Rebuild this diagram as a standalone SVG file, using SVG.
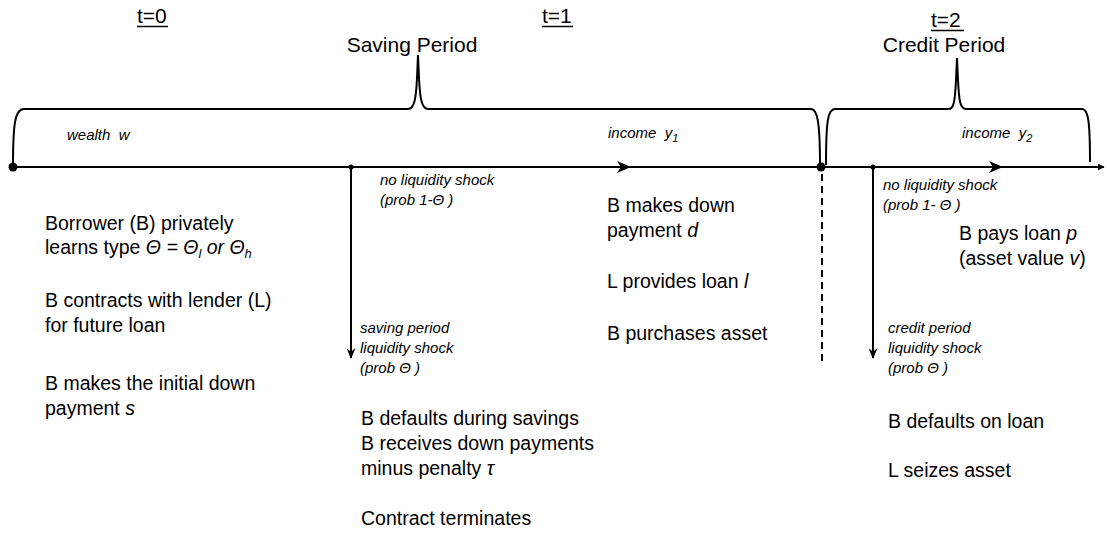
<svg xmlns="http://www.w3.org/2000/svg" width="1107" height="537" viewBox="0 0 1107 537">
<defs>
<style>
text{font-family:"Liberation Sans",Arial,sans-serif;fill:#000}
.h{font-size:21px}
.b{font-size:19.5px}
.s{font-size:15px;font-style:italic}
.i{font-style:italic}
.ln{fill:none;stroke:#000;stroke-width:2}
.br{fill:none;stroke:#000;stroke-width:2}
.ul{stroke:#000;stroke-width:1.5}
</style>
<marker id="ah" viewBox="0 0 10 10" refX="9" refY="5" markerWidth="7" markerHeight="7" markerUnits="userSpaceOnUse" orient="auto">
<path d="M0,0 L10,5 L0,10 Z" fill="#000"/>
</marker>
<marker id="dn" viewBox="0 0 10 12" refX="5" refY="11" markerWidth="9" markerHeight="11" markerUnits="userSpaceOnUse" orient="0">
<path d="M0,0 L5,12 L10,0 L5,4 Z" fill="#000"/>
</marker>
</defs>
<rect width="1107" height="537" fill="#fff"/>

<g id="headings">
<text class="h" x="137" y="23">t=0</text>
<line class="ul" x1="137" y1="26.5" x2="168" y2="26.5"/>
<text class="h" x="542" y="23">t=1</text>
<line class="ul" x1="542" y1="26.5" x2="573" y2="26.5"/>
<text class="h" x="931" y="27">t=2</text>
<line class="ul" x1="931" y1="30.5" x2="964" y2="30.5"/>
<text class="h" x="412" y="52" text-anchor="middle">Saving Period</text>
<text class="h" x="944" y="52" text-anchor="middle">Credit Period</text>
</g>

<g id="braces">
<path class="br" d="M13,165 C13,124 15,109 24,109 L408,109 C414,109 416,100 417,78 L418,55 M418,55 L419,78 C420,100 422,109 428,109 L811,109 C817,109 820,120 820,165"/>
<path class="br" d="M826,165 C826,120 828,109 835,109 L949,109 C954,109 955,100 956,80 L957,58 M957,58 L958,80 C959,100 960,109 966,109 L1082,109 C1088,109 1090,120 1090,162"/>
</g>

<g id="connectors">
<line class="ln" x1="13" y1="167" x2="1104" y2="167" marker-end="url(#ah)"/>
<path d="M617,161 L631,167 L617,173 L621,167 Z" fill="#000"/>
<path d="M989,161 L1003,167 L989,173 L993,167 Z" fill="#000"/>
<line class="ln" x1="351" y1="167" x2="351" y2="358" marker-end="url(#dn)"/>
<line class="ln" x1="873" y1="167" x2="873" y2="358" marker-end="url(#dn)"/>
<line x1="822" y1="174" x2="822" y2="362" stroke="#000" stroke-width="2" stroke-dasharray="7,5"/>
<circle cx="13" cy="167" r="4.5" fill="#000"/>
<circle cx="821" cy="167" r="4.5" fill="#000"/>
<circle cx="351" cy="167" r="2.5" fill="#000"/>
<circle cx="873" cy="167" r="2.5" fill="#000"/>
</g>

<g id="period-labels">
<text class="s" x="67" y="140" xml:space="preserve">wealth  w</text>
<text class="s" x="608" y="138" xml:space="preserve">income  y<tspan font-size="11" dy="4">1</tspan></text>
<text class="s" x="962" y="138" xml:space="preserve">income  y<tspan font-size="11" dy="4">2</tspan></text>
</g>

<g id="t0-events">
<text class="b" x="45" y="230">Borrower (B) privately</text>
<text class="b" x="45" y="254">learns type <tspan class="i">Θ = Θ</tspan><tspan class="i" font-size="13" dy="4">l</tspan><tspan class="i" dy="-4"> or Θ</tspan><tspan class="i" font-size="13" dy="4">h</tspan></text>
<text class="b" x="45" y="307">B contracts with lender (L)</text>
<text class="b" x="45" y="332">for future loan</text>
<text class="b" x="45" y="390">B makes the initial down</text>
<text class="b" x="45" y="415">payment <tspan class="i">s</tspan></text>
</g>

<g id="saving-no-shock">
<text class="s" x="380" y="185">no liquidity shock</text>
<text class="s" x="380" y="205">(prob 1-Θ )</text>
</g>

<g id="saving-shock">
<text class="s" x="360" y="333">saving period</text>
<text class="s" x="360" y="353">liquidity shock</text>
<text class="s" x="360" y="373">(prob Θ )</text>
</g>

<g id="saving-default">
<text class="b" x="361" y="425">B defaults during savings</text>
<text class="b" x="361" y="450">B receives down payments</text>
<text class="b" x="361" y="475">minus penalty <tspan class="i">τ</tspan></text>
<text class="b" x="361" y="525">Contract terminates</text>
</g>

<g id="t1-events">
<text class="b" x="607" y="212">B makes down</text>
<text class="b" x="607" y="237">payment <tspan class="i">d</tspan></text>
<text class="b" x="607" y="288">L provides loan <tspan class="i">l</tspan></text>
<text class="b" x="607" y="340">B purchases asset</text>
</g>

<g id="credit-no-shock">
<text class="s" x="883" y="190">no liquidity shock</text>
<text class="s" x="883" y="210">(prob 1- Θ )</text>
</g>

<g id="credit-repay">
<text class="b" x="959" y="240">B pays loan <tspan class="i">p</tspan></text>
<text class="b" x="959" y="265">(asset value <tspan class="i">v</tspan>)</text>
</g>

<g id="credit-shock">
<text class="s" x="888" y="333">credit period</text>
<text class="s" x="888" y="353">liquidity shock</text>
<text class="s" x="888" y="373">(prob Θ )</text>
</g>

<g id="credit-default">
<text class="b" x="888" y="428">B defaults on loan</text>
<text class="b" x="888" y="477">L seizes asset</text>
</g>
</svg>
